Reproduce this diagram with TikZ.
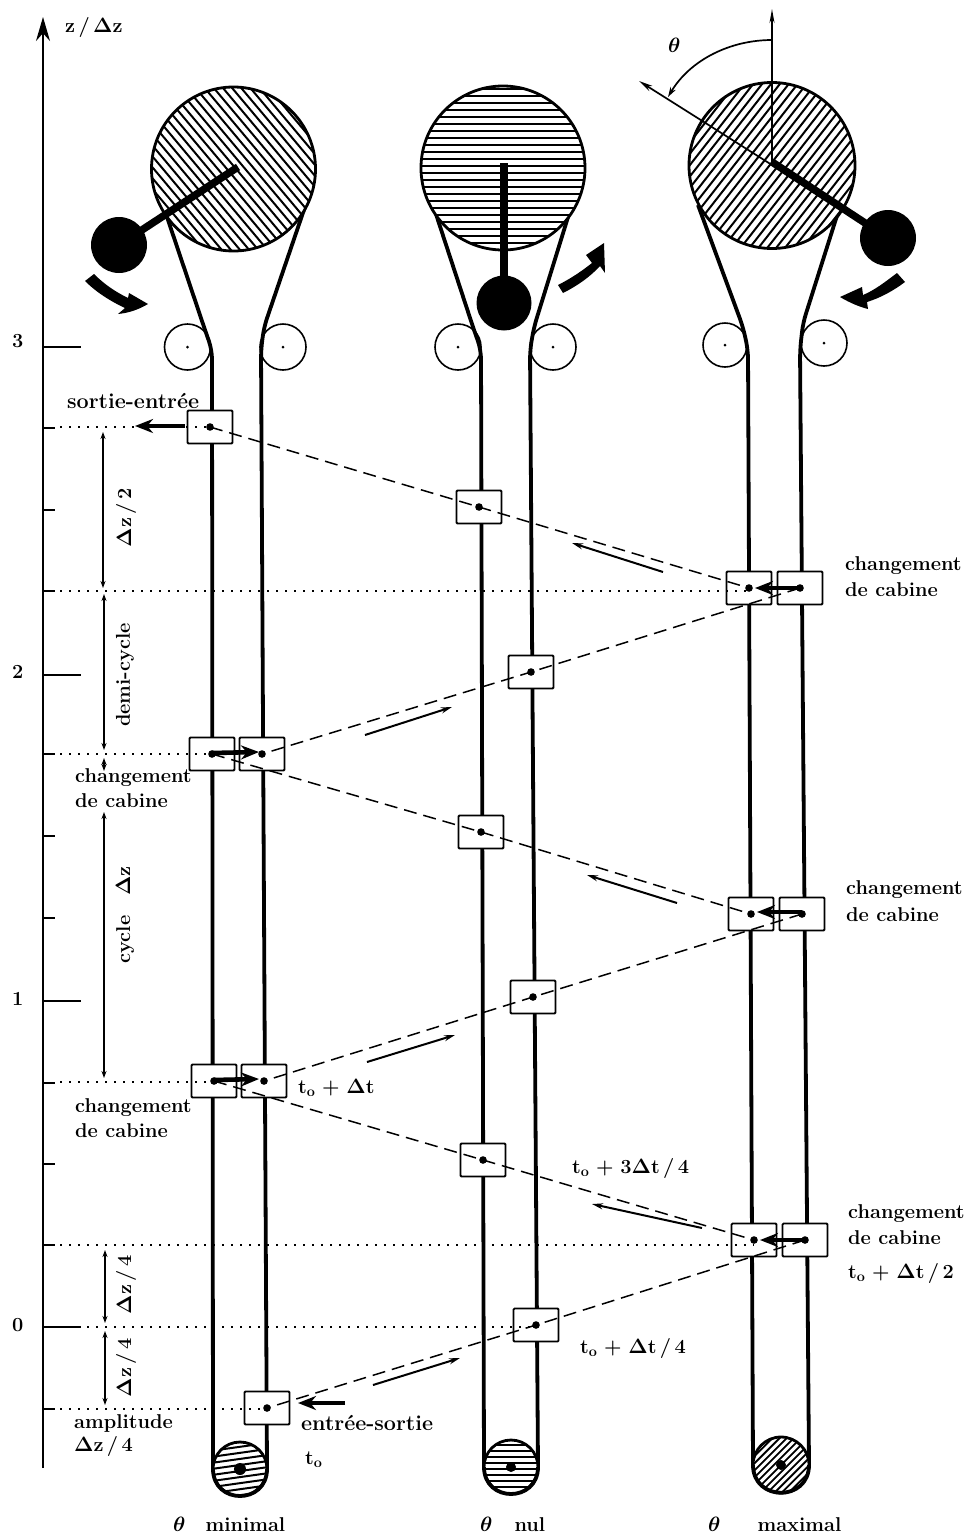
\documentclass[tikz,border=0pt]{standalone}
\usepackage{amsmath, amssymb}
\usetikzlibrary{arrows.meta}
\tikzset{
	belt/.style={line width=3.8pt, rounded corners=9pt},
	cabin/.style={draw, fill=white, line width=1.8pt, rounded corners=1pt, minimum width=45pt, minimum height=33pt, inner sep=0pt},
	lbl/.style={font=\bfseries\boldmath\fontsize{20}{22}\selectfont, inner sep=0pt, anchor=west},
	widelbl/.style={lbl, font=\bfseries\fontsize{21.5}{23}\selectfont},
	dashline/.style={line width=1.5pt, dash pattern=on 13pt off 7pt},
	dotline/.style={line width=1.5pt, dash pattern=on 1.5pt off 7.5pt},
	fatarrow/.style={line width=4.6pt, -{Stealth[length=18pt,width=14pt]}},
	flow/.style={line width=2pt, -{Stealth[length=11pt,width=6pt]}},
	dimline/.style={line width=1.2pt, {Stealth[length=7pt,width=5pt]}-{Stealth[length=7pt,width=5pt]}},
}
\newcommand{\hatchdisc}[5]{%
	\fill[white] (#1) circle (#2);
	\begin{scope}
		\clip (#1) circle (#2);
		\begin{scope}[shift={(#1)}, rotate=#3]
			\foreach \s in {-100,#4,...,100}
				\draw[line width=#5] (-100,\s) -- (100,\s);
		\end{scope}
	\end{scope}
	\draw[line width=2.8pt] (#1) circle (#2);
}
\begin{document}
\begin{tikzpicture}[x=1pt, y=-1pt]
	\useasboundingbox (0,0) rectangle (969,1535);
	\coordinate (D1) at (233.5,169);
	\coordinate (D2) at (503,168);
	\coordinate (D3) at (772,165.5);
	\coordinate (B1) at (240,1469);
	\coordinate (B2) at (511,1467);
	\coordinate (B3) at (781,1465);

	% axis
	\draw[line width=1.7pt, -{Stealth[length=24pt,width=14pt]}] (43,1468) -- (43,17);
	\foreach \y in {347,675,1001,1327}
		\draw[line width=1.6pt] (43,\y) -- (81,\y);
	\foreach \y in {428,510,591,754,836,918,1083,1164,1245,1409}
		\draw[line width=1.6pt] (43,\y) -- (55,\y);

	% rollers
	\foreach \x/\y/\r in {187.5/347/23,283/347/23,458/347/23,553/347/23,725/345/22,824/343/23} {
		\draw[line width=1.6pt] (\x,\y) circle (\r);
		\fill (\x,\y) circle (1.5);
	}

	% belts
	\draw[belt] (163,205) -- (204,327) -- (212,350) -- (213,1469);
	\draw[belt] (307,201) -- (264,327) -- (261,350) -- (267,1469);
	\draw[belt] (433,205) -- (473,327) -- (481,350) -- (484,1467);
	\draw[belt] (573,201) -- (534,327) -- (530,350) -- (538,1467);
	\draw[belt] (698,205) -- (743,327) -- (748,350) -- (753,1465);
	\draw[belt] (841,203) -- (803,323) -- (800,350) -- (809,1465);

	% drums
	\hatchdisc{D1}{82}{-50}{-93}{2pt}
	\hatchdisc{D2}{82}{0}{-93}{2pt}
	\hatchdisc{D3}{83}{52}{-93}{2pt}
	\hatchdisc{B1}{27}{8}{-94}{2pt}
	\hatchdisc{B2}{27}{0}{-94}{2pt}
	\hatchdisc{B3}{28}{45}{-95}{1.8pt}
	\draw[line width=3.8pt, shift={(B1)}] (-27,0) .. controls (-27,36) and (27,36) .. (27,0);
	\draw[line width=3.8pt, shift={(B2)}] (-27,0) .. controls (-27,36) and (27,36) .. (27,0);
	\draw[line width=3.8pt, shift={(B3)}] (-28,0) .. controls (-28,37) and (28,37) .. (28,0);
	\fill[shift={(B1)}] (0,0) circle (6);
	\fill[shift={(B2)}] (0,0) circle (5);
	\fill[shift={(B3)}] (0,0) circle (5);

	% counterweights
	\draw[line width=7.5pt] (238,167) -- (119,245);
	\fill (119,245) circle (28);
	\draw[line width=7.5pt] (504,163) -- (504,303);
	\fill (504,303) circle (27.5);
	\draw[line width=7.5pt] (772,162) -- (888,238);
	\fill (888,238) circle (28);

	% angle
	\draw[line width=1.7pt, -{Stealth[length=14pt,width=5pt]}] (772,165) -- (772,9);
	\draw[line width=1.7pt, -{Stealth[length=14pt,width=6pt]}] (772,165) -- (639,81);
	\draw[line width=1.7pt, -{Stealth[length=10pt,width=6pt]}] (772,40) .. controls (730,40) and (690,60) .. (668,97);

	% cabins
	\node[cabin] (c1t) at (210,427) {};
	\node[cabin] (c1La) at (212,754) {};
	\node[cabin] (c1Ra) at (262,754) {};
	\node[cabin] (c1Lb) at (214,1081) {};
	\node[cabin] (c1Rb) at (264,1081) {};
	\node[cabin] (c1b) at (267,1408) {};
	\node[cabin] (c2a) at (479,507) {};
	\node[cabin] (c2b) at (531,672) {};
	\node[cabin] (c2c) at (481,832) {};
	\node[cabin] (c2d) at (533,997) {};
	\node[cabin] (c2e) at (483,1160) {};
	\node[cabin] (c2f) at (536,1325) {};
	\node[cabin] (c3La) at (749,588) {};
	\node[cabin] (c3Ra) at (800,588) {};
	\node[cabin] (c3Lb) at (751,914) {};
	\node[cabin] (c3Rb) at (802,914) {};
	\node[cabin] (c3Lc) at (754,1240) {};
	\node[cabin] (c3Rc) at (805,1240) {};

	% levels
	\foreach \y/\c in {427/c1t,591/c3La,754/c1La,1082/c1Lb,1245/c3Lc,1327/c2f,1409/c1b} {
		\coordinate (lev\c) at (60,\y);
		\draw[dotline] (lev\c) -- (\c.center |- lev\c);
	}

	% paths of the cabins
	\draw[dashline] (c1t.center) -- (c2a.center) -- (c3La.center);
	\draw[dashline] (c3Ra.center) -- (c2b.center) -- (c1Ra.center);
	\draw[dashline] (c1La.center) -- (c2c.center) -- (c3Lb.center);
	\draw[dashline] (c3Rb.center) -- (c2d.center) -- (c1Rb.center);
	\draw[dashline] (c1Lb.center) -- (c2e.center) -- (c3Lc.center);
	\draw[dashline] (c3Rc.center) -- (c2f.center) -- (c1b.center);
	\foreach \c in {c1t,c1La,c1Ra,c1Lb,c1Rb,c1b,c2a,c2b,c2c,c2d,c2e,c2f,c3La,c3Ra,c3Lb,c3Rb,c3Lc,c3Rc}
		\fill (\c.center) circle (3.8);

	% fat arrows
	\foreach \a/\b/\c/\d [count=\i] in {185/426/135/426, 212/753/259/752, 214/1080/259/1079, 800/588/755/588, 802/912/757/912, 805/1240/760/1240, 345/1403/298/1403} {
		\coordinate (fata\i) at (\a,\b);
		\coordinate (fatb\i) at (\c,\d);
		\draw[fatarrow] (fata\i) -- (fatb\i);
	}

	% thin arrows
	\foreach \a/\b/\c/\d [count=\i] in {663/572/572/543, 365/735/452/707, 677/903/587/875, 367/1062/455/1035, 702/1228/592/1204, 373/1385/460/1358} {
		\coordinate (flowa\i) at (\a,\b);
		\coordinate (flowb\i) at (\c,\d);
		\draw[flow] (flowa\i) -- (flowb\i);
	}

	% dimension arrows
	\foreach \x/\a/\b [count=\i] in {103/432/588, 104/594/750, 104/758/771, 104/812/1078, 105/1250/1323, 105/1331/1405} {
		\coordinate (dima\i) at (\x,\a);
		\coordinate (dimb\i) at (\x,\b);
		\draw[dimline] (dima\i) -- (dimb\i);
	}

	% rotation arrows
	\fill (94,274) .. controls (105,285) and (116,292) .. (128,298) -- (129,293) -- (148,304) .. controls (138,310) and (128,313) .. (118,314) -- (125,308) .. controls (110,301) and (96,292) .. (85,281) -- cycle;
	\fill (897,273) .. controls (885,282) and (875,290) .. (863,295) -- (862,287) -- (840,297) .. controls (850,303) and (860,307) .. (868,309) -- (867,302) .. controls (880,298) and (893,291) .. (905,282) -- cycle;
	\fill (558,285) .. controls (570,279) and (582,271) .. (592,263) -- (586,255) -- (604,243) -- (605,273) -- (600,266) .. controls (590,277) and (577,286) .. (563,293) -- cycle;

	% labels
	\node[lbl] (zlabel) at (65,27) {z\,/\,$\Delta$z};
	\node[lbl] (n3) at (12,341) {3};
	\node[lbl] (n2) at (12,672) {2};
	\node[lbl] (n1) at (12,999) {1};
	\node[lbl] (n0) at (12,1325) {0};
	\node[lbl] (thetalabel) at (668,45) {$\theta$};
	\node[widelbl] (sortie) at (67,401) {sortie-entrée};
	\node[lbl] (chg1) at (75,778) {changement};
	\node[lbl] (cab1) at (75,801) {de cabine};
	\node[lbl] (chg2) at (75,1108) {changement};
	\node[lbl] (cab2) at (75,1131) {de cabine};
	\node[lbl] (chg3) at (845,566) {changement};
	\node[lbl] (cab3) at (845,590) {de cabine};
	\node[lbl] (chg4) at (846,890) {changement};
	\node[lbl] (cab4) at (846,915) {de cabine};
	\node[lbl] (chg5) at (848,1214) {changement};
	\node[lbl] (cab5) at (848,1238) {de cabine};
	\node[lbl] (ampl) at (74,1423) {amplitude};
	\node[lbl] (ampz) at (74,1446) {$\Delta$z\,/\,4};
	\node[widelbl] (entree) at (301,1423) {entrée-sortie};
	\node[lbl] (t0) at (305,1460) {t$_\mathrm{o}$};
	\node[lbl] (t1) at (298,1088) {t$_\mathrm{o}$\,\,+\,\,$\Delta$t};
	\node[lbl] (t2) at (572,1168) {t$_\mathrm{o}$\,\,+\,\,3$\Delta$t\,/\,4};
	\node[lbl] (t3) at (580,1348) {t$_\mathrm{o}$\,\,+\,\,$\Delta$t\,/\,4};
	\node[lbl] (t4) at (848,1273) {t$_\mathrm{o}$\,\,+\,\,$\Delta$t\,/\,2};
	\node[lbl] (th1) at (173,1524) {$\theta$\quad minimal};
	\node[lbl] (th2) at (480,1524) {$\theta$\hspace{22pt}nul};
	\node[lbl] (th3) at (708,1524) {$\theta$\hspace{37pt}maximal};
	\node[lbl, anchor=center, rotate=90] (rot1) at (126,518) {$\Delta$z\,/\,2};
	\node[lbl, anchor=center, rotate=90] (rot2) at (125,675) {demi-cycle};
	\node[lbl, anchor=center, rotate=90] (rot3) at (125,915) {cycle\quad $\Delta$z};
	\node[lbl, anchor=center, rotate=90] (rot4) at (126,1285) {$\Delta$z\,/\,4};
	\node[lbl, anchor=center, rotate=90] (rot5) at (126,1368) {$\Delta$z\,/\,4};
\end{tikzpicture}
\end{document}
